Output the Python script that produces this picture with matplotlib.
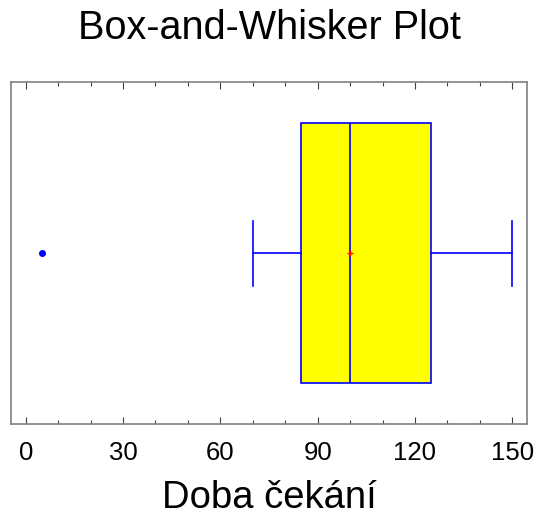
import matplotlib
matplotlib.use("Agg")
import matplotlib.pyplot as plt
from matplotlib.ticker import MultipleLocator

# data
whisker_low = 70
q1 = 85
median = 100
q3 = 125
whisker_high = 150
mean_value = 100
outliers = [5]

title = "Box-and-Whisker Plot"
xlabel = "Doba čekání"
xticks = [0, 30, 60, 90, 120, 150]

plt.rcParams['font.family'] = ['Liberation Sans', 'DejaVu Sans']

fig = plt.figure(figsize=(5.38, 5.19), dpi=100)
ax = fig.add_axes([0.021, 0.1825, 0.959, 0.6595])

stats = [dict(whislo=whisker_low, q1=q1, med=median, q3=q3, whishi=whisker_high,
              mean=mean_value, fliers=outliers)]
blue = '#0000ff'
ax.bxp(stats, positions=[0.5], widths=0.76, capwidths=0.19, vert=False,
       patch_artist=True, showmeans=True,
       boxprops=dict(facecolor='#ffff00', edgecolor=blue, linewidth=1.2),
       medianprops=dict(color=blue, linewidth=1.2),
       whiskerprops=dict(color=blue, linewidth=1.2),
       capprops=dict(color=blue, linewidth=1.2),
       flierprops=dict(marker='o', markerfacecolor=blue, markeredgecolor=blue, markersize=4),
       meanprops=dict(marker='+', markeredgecolor='red', markersize=4, markeredgewidth=1))

ax.set_xlim(-4.44, 154.6)
ax.set_ylim(0, 1)
ax.set_yticks([])
ax.set_xticks(xticks)
ax.xaxis.set_minor_locator(MultipleLocator(10))
ax.tick_params(axis='x', which='both', direction='in', top=True, bottom=True,
               colors='#404040', labelcolor='black', labelsize=18.5, pad=12)
ax.tick_params(axis='x', which='major', length=5, width=0.8)
ax.tick_params(axis='x', which='minor', length=3, width=0.8)
for s in ax.spines.values():
    s.set_color('#808080')
    s.set_linewidth(1.2)

fig.suptitle(title, fontsize=28.5, x=0.5, y=0.982, va='top')
ax.set_xlabel(xlabel, fontsize=27.5, labelpad=11)

fig.savefig("out.png", dpi=100)
